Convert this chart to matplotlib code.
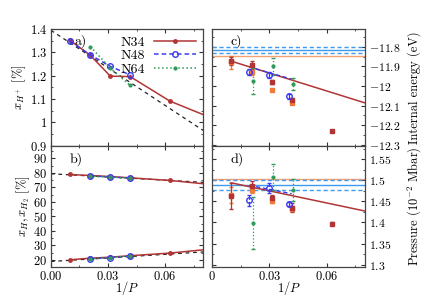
import matplotlib
matplotlib.use('Agg')
import matplotlib.pyplot as plt
from matplotlib.ticker import MultipleLocator, FuncFormatter

plt.rcParams['font.family'] = 'serif'
plt.rcParams['font.serif'] = ['cmr10']
plt.rcParams['mathtext.fontset'] = 'cm'
plt.rcParams['axes.formatter.use_mathtext'] = True
plt.rcParams['font.size'] = 9

RED = '#b23535'
BLUE = '#3a3aef'
GREEN = '#2f9a5a'
ORANGE = '#f07a3a'
LBLUE = '#3d9cf0'
LORANGE = '#f5a072'

# 1/P values
invP34 = [0.0100, 0.0208, 0.03125, 0.0417, 0.0625, 0.0833]
invP48 = [0.0100, 0.0208, 0.03125, 0.0417]
invP64 = [0.0208, 0.03125, 0.0417]

# panel a: x_H+ [%]
xHp_34 = [1.352, 1.287, 1.198, 1.196, 1.091, 1.022]
xHp_48 = [1.348, 1.289, 1.240, 1.203]
xHp_64 = [1.325, 1.232, 1.158]
fit_x = [0.0, 0.08]
fit_xHp = [1.395, 0.965]

# panel b: x_H, x_H2 [%]
xH_34 = [78.9, 78.2, 77.5, 76.6, 74.8, 72.1]
xH2_34 = [20.0, 21.1, 21.8, 22.8, 24.6, 27.3]
xH_48 = [77.9, 77.2, 76.5]
xH2_48 = [20.7, 21.4, 22.6]
xH_64 = [77.7, 77.0, 76.3]
xH2_64 = [20.6, 21.5, 22.6]
fit_xH = [79.4, 73.5]
fit_xH2 = [18.8, 25.4]

# panels c/d: individual estimates with error bars
xr = [0.0100, 0.0208, 0.03125, 0.0417, 0.0625]
xo = [0.0100, 0.0208, 0.03125, 0.0417]
xb = [0.0195, 0.0300, 0.0405]
xg = [0.0215, 0.0320, 0.0425]

E_red = [-11.872, -11.894, -11.980, -12.070, -12.230]
E_red_err = [0.020, 0.020, 0.010, 0.010, 0.004]
E_or = [-11.880, -11.930, -12.018, -12.085]
E_or_err = [0.035, 0.012, 0.004, 0.006]
E_blue = [-11.928, -11.945, -12.052]
E_blue_err = [0.015, 0.015, 0.012]
E_green = [-11.975, -11.900, -11.990]
E_green_err = [0.065, 0.045, 0.030]

P_red = [1.463, 1.487, 1.457, 1.435, 1.397]
P_red_err = [0.030, 0.012, 0.008, 0.010, 0.004]
P_or = [1.465, 1.478, 1.452, 1.432]
P_or_err = [0.018, 0.008, 0.006, 0.006]
P_blue = [1.453, 1.481, 1.443]
P_blue_err = [0.013, 0.012, 0.005]
P_green = [1.398, 1.508, 1.477]
P_green_err = [0.062, 0.030, 0.025]

# fits and reference lines
fitr_x = [0.0100, 0.0800]
fitr_E = [-11.873, -12.086]
fitr_P = [1.494, 1.427]
fitb_x = [0.0195, 0.0417]
fitb_E = [-11.903, -11.965]
fitb_P = [1.488, 1.468]
ref_E, ref_E_err, ref_E_or = -11.818, 0.015, -11.846
ref_P, ref_P_err, ref_P_or = 1.489, 0.012, 1.503

fig = plt.figure(figsize=(4.24, 2.97), dpi=100)
axa = fig.add_axes([0.120, 0.510, 0.359, 0.392])
axb = fig.add_axes([0.120, 0.102, 0.359, 0.406])
axc = fig.add_axes([0.500, 0.510, 0.361, 0.392])
axd = fig.add_axes([0.500, 0.102, 0.361, 0.406])

gfmt = FuncFormatter(lambda v, p: f'${v:g}$')

for ax in (axa, axb, axc, axd):
    ax.set_xlim(0, 0.08)
    ax.xaxis.set_major_locator(MultipleLocator(0.03))
    ax.xaxis.set_minor_locator(MultipleLocator(0.015))
    ax.tick_params(which='both', direction='in', top=True, right=True,
                   colors='#333333', labelcolor='black', labelsize=9, pad=2.5)
    ax.tick_params(which='major', length=3)
    ax.tick_params(which='minor', length=1.5)
    for s in ax.spines.values():
        s.set_color('#444444')
        s.set_linewidth(0.9)

# --- a ---
axa.plot(fit_x, fit_xHp, '--', color='#222222', lw=0.9, dashes=(3, 3))
axa.plot(invP34, xHp_34, '-', color=RED, lw=1.1, marker='o', ms=2.5, label='N34')
axa.plot(invP48, xHp_48, '--', color=BLUE, lw=1.1, marker='o', ms=4, mfc='none',
         mew=1.0, dashes=(3, 2), label='N48')
axa.plot(invP64, xHp_64, ':', color=GREEN, lw=1.1, marker='o', ms=2, label='N64')
axa.set_ylim(0.9, 1.4)
axa.yaxis.set_major_locator(MultipleLocator(0.1))
axa.yaxis.set_minor_locator(MultipleLocator(0.05))
axa.yaxis.set_major_formatter(gfmt)
axa.set_xticklabels([])
axa.set_ylabel(r'$x_{H^+}$ [%]', labelpad=1)
axa.text(0.155, 0.95, 'a)', transform=axa.transAxes, ha='left', va='top', fontsize=10)
axa.legend(loc='upper right', frameon=False, markerfirst=False, handlelength=3.0,
           fontsize=10, borderaxespad=0.1, labelspacing=0.05, handletextpad=0.7)

# --- b ---
axb.plot(fit_x, fit_xH, '--', color='#222222', lw=0.9, dashes=(3, 3))
axb.plot(fit_x, fit_xH2, '--', color='#222222', lw=0.9, dashes=(3, 3))
for yv in (xH_34, xH2_34):
    axb.plot(invP34, yv, '-', color=RED, lw=1.1, marker='o', ms=2.5)
for yv in (xH_48, xH2_48):
    axb.plot(invP64, yv, '--', color=BLUE, lw=1.0, marker='o', ms=4, mfc='none', dashes=(3, 2))
for yv in (xH_64, xH2_64):
    axb.plot(invP64, yv, ':', color=GREEN, lw=1.0, marker='o', ms=2)
axb.set_ylim(15.2, 98.5)
axb.yaxis.set_major_locator(MultipleLocator(10))
axb.yaxis.set_minor_locator(MultipleLocator(5))
axb.yaxis.set_major_formatter(gfmt)
axb.xaxis.set_major_formatter(FuncFormatter(lambda v, p: f'${v:.2f}$'))
axb.set_xlabel(r'$1/P$')
axb.xaxis.set_label_coords(0.5, -0.1)
axb.set_ylabel(r'$x_H, x_{H_2}$ [%]', labelpad=1)
axb.text(0.12, 0.95, 'b)', transform=axb.transAxes, ha='left', va='top', fontsize=10)


def panel(ax, ref, ref_err, ref_or, fr, fb, red, red_e, orn, orn_e, blu, blu_e, grn, grn_e):
    ax.axhline(ref_or, color=LORANGE, lw=1.0)
    ax.axhline(ref, color=LBLUE, lw=1.0)
    ax.axhline(ref - ref_err, color=LBLUE, lw=1.0, ls='--', dashes=(3, 2))
    ax.axhline(ref + ref_err, color=LBLUE, lw=1.0, ls='--', dashes=(3, 2))
    ax.plot(fitr_x, fr, '-', color=RED, lw=1.1)
    ax.plot(fitb_x, fb, '--', color=BLUE, lw=1.0, dashes=(3, 2))
    ax.errorbar(xo, orn, yerr=orn_e, fmt='s', color=ORANGE, ms=3, capsize=1.5, lw=0.9)
    ax.errorbar(xr, red, yerr=red_e, fmt='s', color=RED, ms=3, capsize=1.5, lw=0.9)
    eb = ax.errorbar(xb, blu, yerr=blu_e, fmt='o', color=BLUE, ms=4, mfc='none',
                     capsize=1.5, lw=0.9)
    eb[2][0].set_linestyle('--')
    eg = ax.errorbar(xg, grn, yerr=grn_e, fmt='o', color=GREEN, ms=2, capsize=1.5, lw=0.9)
    eg[2][0].set_linestyle(':')
    ax.yaxis.tick_right()
    ax.yaxis.set_label_position('right')
    ax.tick_params(which='both', left=True, right=True)
    ax.tick_params(axis='y', labelsize=8.5)
    ax.yaxis.set_major_formatter(gfmt)


# --- c ---
panel(axc, ref_E, ref_E_err, ref_E_or, fitr_E, fitb_E, E_red, E_red_err, E_or, E_or_err,
      E_blue, E_blue_err, E_green, E_green_err)
axc.set_ylim(-12.303, -11.71)
axc.yaxis.set_major_locator(MultipleLocator(0.1))
axc.yaxis.set_minor_locator(MultipleLocator(0.05))
axc.set_xticklabels([])
axc.set_ylabel('Internal energy (eV)', va='center')
axc.yaxis.set_label_coords(1.32, 0.5)
axc.text(0.12, 0.95, 'c)', transform=axc.transAxes, ha='left', va='top', fontsize=10)

# --- d ---
panel(axd, ref_P, ref_P_err, ref_P_or, fitr_P, fitb_P, P_red, P_red_err, P_or, P_or_err,
      P_blue, P_blue_err, P_green, P_green_err)
axd.set_ylim(1.295, 1.581)
axd.yaxis.set_major_locator(MultipleLocator(0.05))
axd.yaxis.set_minor_locator(MultipleLocator(0.025))
axd.xaxis.set_major_formatter(gfmt)
axd.set_xlabel(r'$1/P$')
axd.xaxis.set_label_coords(0.5, -0.1)
axd.set_ylabel(r'Pressure ($10^{-2}$ Mbar)', va='center')
axd.yaxis.set_label_coords(1.32, 0.5)
axd.text(0.12, 0.95, 'd)', transform=axd.transAxes, ha='left', va='top', fontsize=10)

fig.savefig('out.png', dpi=100)
